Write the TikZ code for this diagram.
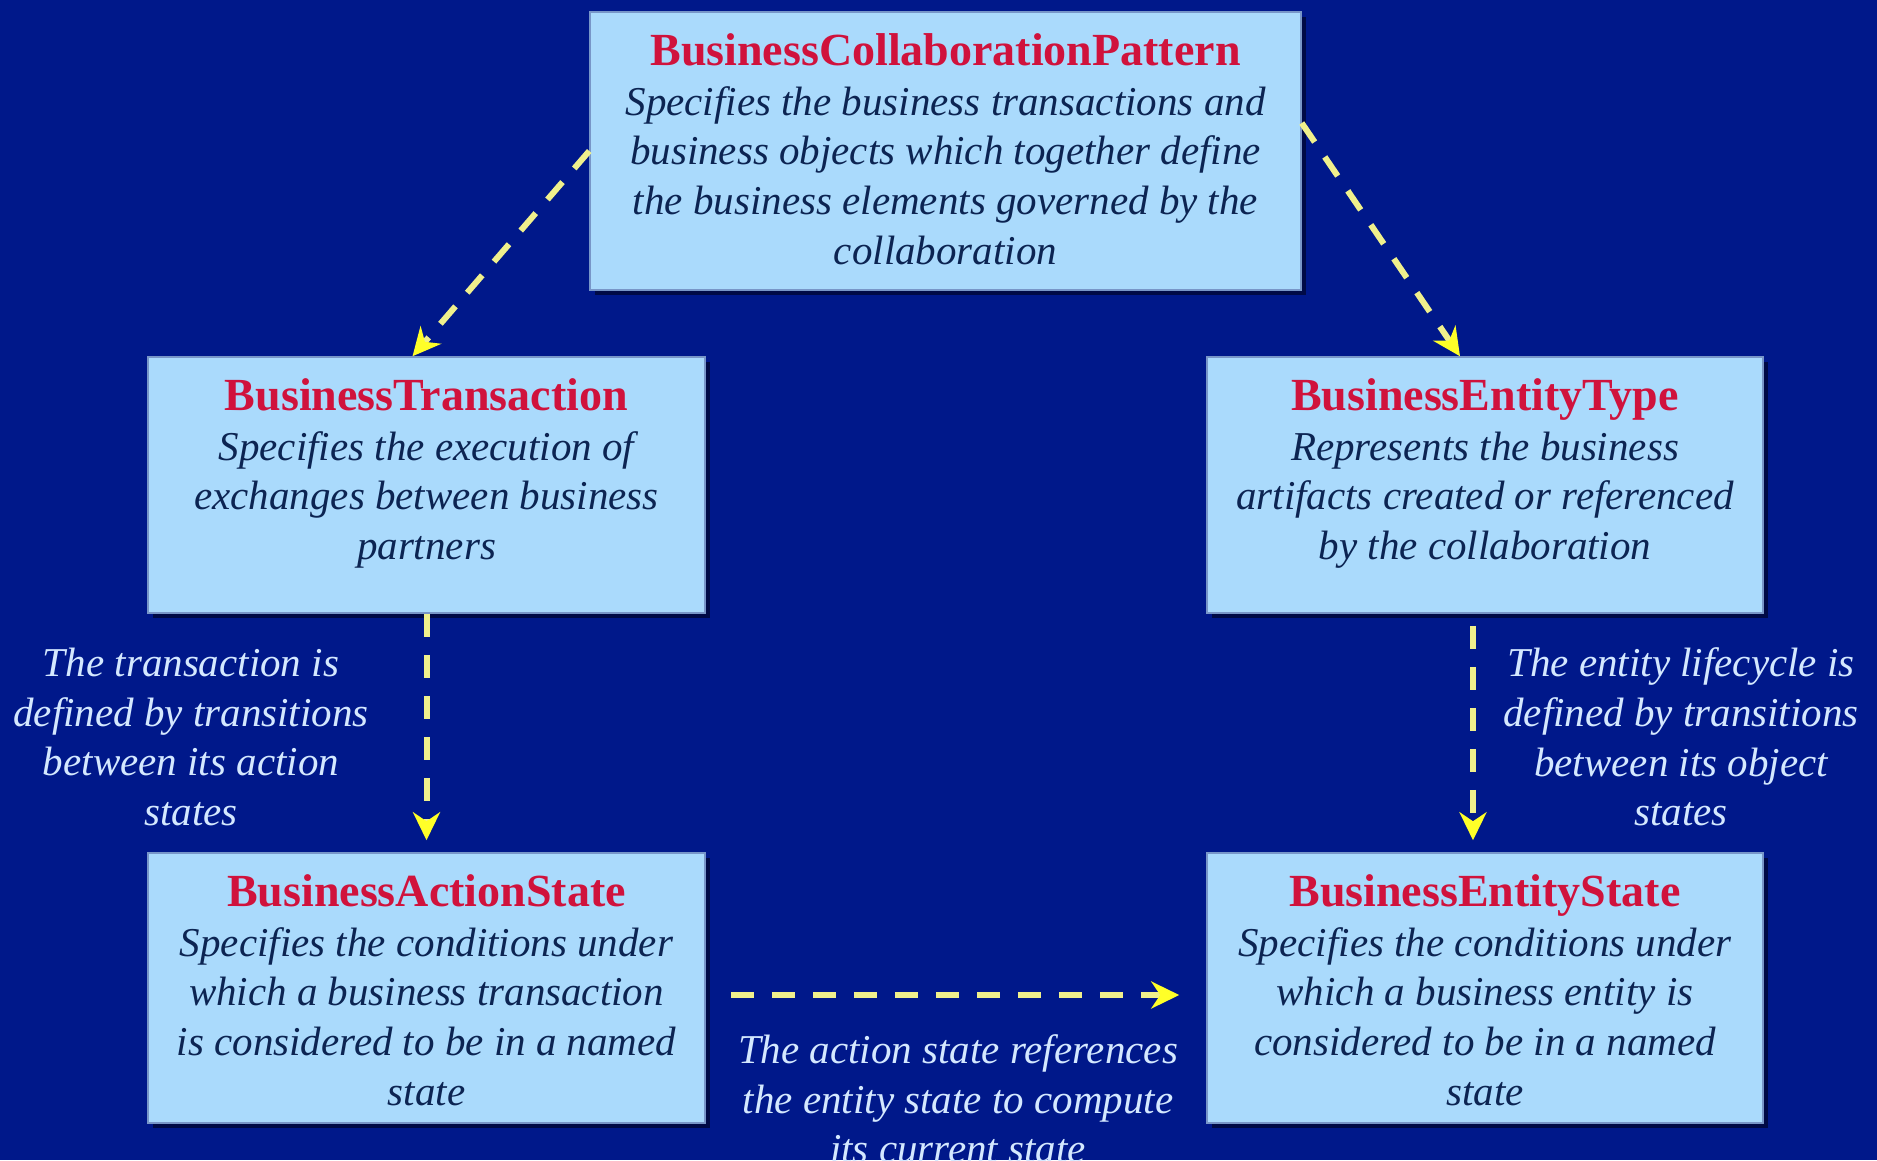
\documentclass[tikz,border=0pt]{standalone}
\usepackage{fontspec}
\setmainfont{Liberation Serif}
\usetikzlibrary{arrows.meta,shadows}
\definecolor{bgc}{RGB}{0,24,138}
\definecolor{boxfill}{RGB}{170,218,252}
\definecolor{boxedge}{RGB}{120,150,200}
\definecolor{shadowc}{RGB}{0,10,70}
\definecolor{titlered}{RGB}{208,18,60}
\definecolor{bodytext}{RGB}{12,36,82}
\definecolor{labeltext}{RGB}{212,232,255}
\definecolor{arrowc}{RGB}{240,240,140}
\definecolor{tipc}{RGB}{255,255,40}
\newcommand\boxtitle[1]{{\fontsize{46}{49.7}\selectfont\bfseries\upshape\color{titlered}#1}}
\begin{document}
\begin{tikzpicture}[x=1pt,y=-1pt,
  box/.style={draw=boxedge, line width=1.5pt, fill=boxfill, inner sep=0pt,
    drop shadow={shadow xshift=5pt, shadow yshift=-5pt, fill=shadowc, opacity=1}},
  boxtext/.style={anchor=north, align=center, inner sep=0pt,
    font=\fontsize{41}{49.7}\selectfont\itshape, text=bodytext},
  labeltxt/.style={align=center, inner sep=0pt,
    font=\fontsize{41}{49.7}\selectfont\itshape, text=labeltext},
  flow/.style={draw=arrowc, line width=6pt, dash pattern=on 23pt off 18pt,
    -{Stealth[length=28pt,width=27pt,inset=9pt,fill=tipc,color=tipc]}}
]
\useasboundingbox (0,0) rectangle (1877,1160);
\fill[bgc] (0,0) rectangle (1877,1160);

% boxes
\node[box, minimum width=711pt, minimum height=278pt] (top) at (945.5,151) {};
\node[box, minimum width=557pt, minimum height=256pt] (bt) at (426.5,485) {};
\node[box, minimum width=556pt, minimum height=256pt] (bet) at (1485,485) {};
\node[box, minimum width=557pt, minimum height=270pt] (bas) at (426.5,988) {};
\node[box, minimum width=556pt, minimum height=270pt] (bes) at (1485,988) {};

% box texts
\node[boxtext] (toptxt) at ([yshift=-22pt]top.north) {\boxtitle{BusinessCollaborationPattern}\\
Specifies the business transactions and\\
business objects which together define\\
the business elements governed by the\\
collaboration};
\node[boxtext] (bttxt) at ([yshift=-22pt]bt.north) {\boxtitle{BusinessTransaction}\\
Specifies the execution of\\
exchanges between business\\
partners};
\node[boxtext] (bettxt) at ([yshift=-22pt]bet.north) {\boxtitle{BusinessEntityType}\\
Represents the business\\
artifacts created or referenced\\
by the collaboration};
\node[boxtext] (bastxt) at ([yshift=-22pt]bas.north) {\boxtitle{BusinessActionState}\\
Specifies the conditions under\\
which a business transaction\\
is considered to be in a named\\
state};
\node[boxtext] (bestxt) at ([yshift=-22pt]bes.north) {\boxtitle{BusinessEntityState}\\
Specifies the conditions under\\
which a business entity is\\
considered to be in a named\\
state};

% labels
\node[labeltxt] (lbl1) at (191,737) {The transaction is\\defined by transitions\\between its action\\states};
\node[labeltxt] (lbl2) at (1681,737) {The entity lifecycle is\\defined by transitions\\between its object\\states};
\node[labeltxt] (lbl3) at (958,1099) {The action state references\\the entity state to compute\\its current state};

% connectors
\draw[flow] (top.west) -- ([xshift=-14pt]bt.north);
\draw[flow] ([yshift=28pt]top.east) -- ([xshift=-25pt]bet.north);
\draw[flow, shorten >=12pt] (bt.south) -- (bas.north);
\draw[flow, shorten <=12pt, shorten >=12pt] ([xshift=-12pt]bet.south) -- ([xshift=-12pt]bes.north);
\draw[flow, shorten <=25pt, shorten >=27pt] ([yshift=-7pt]bas.east) -- ([yshift=-7pt]bes.west);
\end{tikzpicture}
\end{document}
